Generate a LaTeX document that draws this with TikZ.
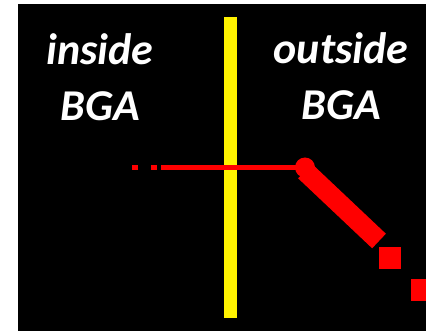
\documentclass[tikz,border=0pt]{standalone}
\usepackage{fontspec}
\newfontfamily\lblfont{Carlito}
\usepackage{tikz}
\usetikzlibrary{arrows.meta,calc,positioning}

\begin{document}
\begin{tikzpicture}[x=1pt,y=-1pt,
		lbl/.style={text=white,align=center,anchor=base,
			font=\lblfont\bfseries\itshape\fontsize{44}{56}\selectfont},
		pad/.style={fill=red,minimum size=22pt,inner sep=0pt}]
		
		% Frame
		\useasboundingbox (0,0) rectangle (426,331);
		\fill[black] (18,4) rectangle (426,331);
		
		% Boundary line
		\fill[yellow] (224,17) rectangle (237,318);
		
		% Labels
		\node[lbl] (inlbl) at (100,121) {inside\\BGA};
		\node[lbl] (outlbl) at (341,120) {outside\\BGA};
		
		% Via and stub end
		\node[circle,fill=red,minimum size=20pt,inner sep=0pt] (via) at (305,167.5) {};
		\node[fill=red,minimum size=5.5pt,inner sep=0pt] (dot1) at (135,167.5) {};
		\node[fill=red,minimum size=5.5pt,inner sep=0pt] (dot2) at (154,167.5) {};
		\coordinate (stub) at (161,167.5);
		
		% Thin trace
		\draw[red,line width=5pt] (stub)--(via.center);
		
		% Pads
		\begin{scope}
			\clip (18,4) rectangle (426,331);
			\node[pad] (pad1) at (390,258) {};
			\node[pad] (pad2) at (422,290) {};
		\end{scope}
		
		% Thick trace
		\coordinate (tend) at (379,241);
		\draw[red,line width=20pt] ($(via.center)!0.35!(via.south)$)--(tend);
		
	\end{tikzpicture}
\end{document}
